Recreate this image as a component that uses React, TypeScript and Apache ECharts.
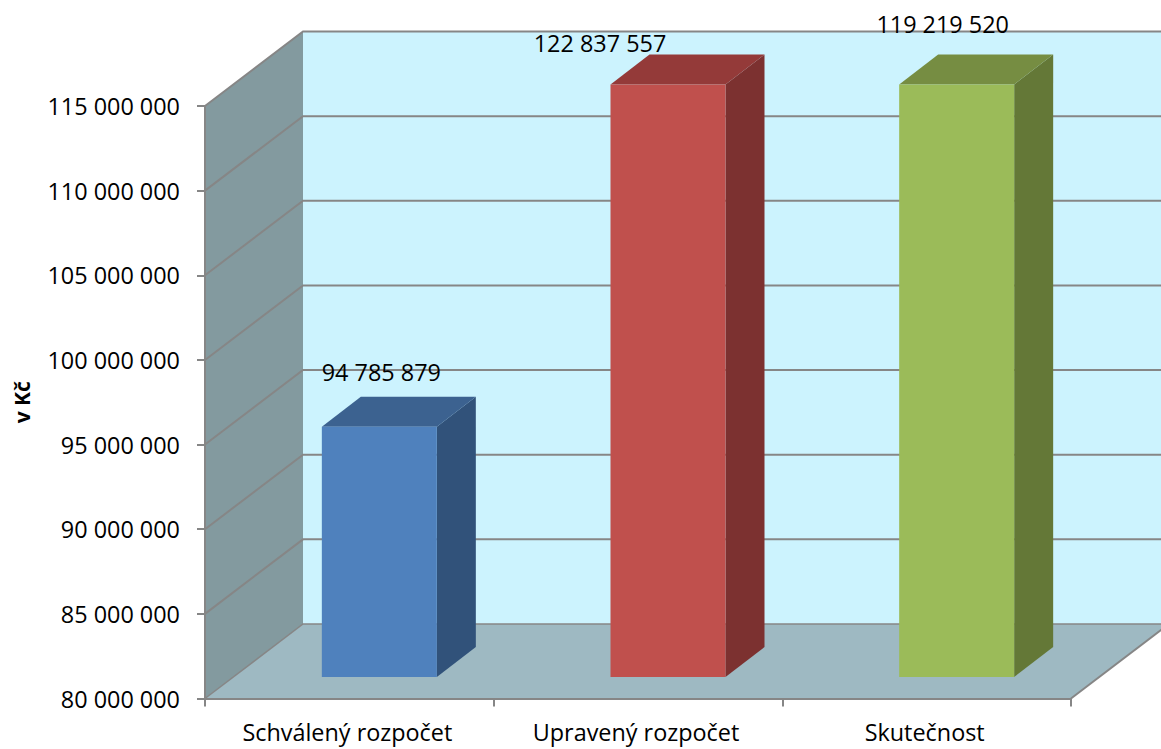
import React, { useEffect, useRef } from "react";
import * as echarts from "echarts";

const categories = ["Schválený rozpočet", "Upravený rozpočet", "Skutečnost"];
const values = [94785879, 122837557, 119219520];
const yMin = 80000000;
const yMax = 115000000;
const yStep = 5000000;
const yTicks = [80000000, 85000000, 90000000, 95000000, 100000000, 105000000, 110000000, 115000000];
const frontColors = ["#4F81BD", "#C0504D", "#9BBB59"];
const sideColors = ["#31527A", "#7C3130", "#647837"];
const topColors = ["#3C6290", "#943A39", "#768D42"];

const FONT = '"Open Sans", sans-serif';
const FONT_SIZE = 23.4;
const fmt = (v: number) => String(v).replace(/\B(?=(\d{3})+(?!\d))/g, " ");

const WALL_DX = 98;
const WALL_DY = -74.5;
const BAR_SHIFT = 30;
const BAR_LIFT = -21.5;
const BAR_W = 115;
const BAR_DX = 39;
const BAR_DY = -30;
const GRID = "#868686";
// label centre relative to the top-front centre of each bar
const LABEL_OFFSETS = [[2, -55], [-68, -42], [-14, -61]];

function renderWalls(params: any, api: any) {
  const c = params.coordSys;
  const x0 = c.x;
  const x1 = c.x + c.width;
  const yB = c.y + c.height;
  const yT = c.y;
  const children: any[] = [
    { type: "polygon", shape: { points: [[x0 + WALL_DX, yT + WALL_DY], [x1 + WALL_DX, yT + WALL_DY], [x1 + WALL_DX, yB + WALL_DY], [x0 + WALL_DX, yB + WALL_DY]] }, style: { fill: "#CCF3FE" } },
    { type: "polygon", shape: { points: [[x0, yT], [x0 + WALL_DX, yT + WALL_DY], [x0 + WALL_DX, yB + WALL_DY], [x0, yB]] }, style: { fill: "#839A9F" } },
    { type: "polygon", shape: { points: [[x0, yB], [x0 + WALL_DX, yB + WALL_DY], [x1 + WALL_DX, yB + WALL_DY], [x1, yB]] }, style: { fill: "#9EB9C2" } },
  ];
  yTicks.forEach((t) => {
    const y = api.coord([0, t])[1];
    children.push({
      type: "polyline",
      shape: { points: [[x0, y], [x0 + WALL_DX, y + WALL_DY], [x1 + WALL_DX, y + WALL_DY]] },
      style: { fill: "none", stroke: GRID, lineWidth: t === yMin ? 1.5 : 2 },
    });
  });
  children.push({
    type: "line",
    shape: { x1, y1: yB, x2: x1 + WALL_DX, y2: yB + WALL_DY },
    style: { stroke: GRID, lineWidth: 2 },
  });
  return { type: "group", children };
}

function renderBar(params: any, api: any) {
  const i = api.value(0);
  const val = Math.min(api.value(1), yMax);
  const idx = params.dataIndex;
  const top = api.coord([i, val]);
  const base = api.coord([i, yMin]);
  const cx = top[0] + BAR_SHIFT;
  const l = cx - BAR_W / 2;
  const r = cx + BAR_W / 2;
  const t = top[1] + BAR_LIFT;
  const b = base[1] + BAR_LIFT;
  return {
    type: "group",
    children: [
      { type: "polygon", shape: { points: [[r, t], [r + BAR_DX, t + BAR_DY], [r + BAR_DX, b + BAR_DY], [r, b]] }, style: { fill: sideColors[idx] } },
      { type: "polygon", shape: { points: [[l, t], [l + BAR_DX, t + BAR_DY], [r + BAR_DX, t + BAR_DY], [r, t]] }, style: { fill: topColors[idx] } },
      { type: "rect", shape: { x: l, y: t, width: BAR_W, height: b - t }, style: { fill: frontColors[idx] } },
    ],
  };
}

function renderLabel(params: any, api: any) {
  const i = api.value(0);
  const idx = params.dataIndex;
  const top = api.coord([i, Math.min(api.value(1), yMax)]);
  const off = LABEL_OFFSETS[idx];
  return {
    type: "text",
    style: {
      text: fmt(api.value(1)),
      x: top[0] + BAR_SHIFT + off[0],
      y: top[1] + BAR_LIFT + off[1],
      align: "center",
      verticalAlign: "middle",
      fill: "#000",
      font: `${FONT_SIZE}px ${FONT}`,
    },
  };
}

export default function App() {
  const ref = useRef<HTMLDivElement>(null);
  useEffect(() => {
    document.body.style.margin = "0";
    document.body.style.overflow = "hidden";
    const chart = echarts.init(ref.current!, undefined, { renderer: "svg" });
    const rows = values.map((v, i) => [i, v]);
    chart.setOption({
      animation: false,
      backgroundColor: "#fff",
      grid: { left: 205, top: 106, width: 866, height: 592.5, containLabel: false, outerBoundsMode: "none" },
      xAxis: {
        type: "category",
        data: categories,
        z: 5,
        axisLine: { lineStyle: { color: GRID, width: 2 } },
        axisTick: { show: true, length: 8, lineStyle: { color: GRID, width: 2 } },
        axisLabel: { color: "#000", fontFamily: FONT, fontSize: FONT_SIZE, margin: 22, padding: [0, 4, 0, 0] },
        splitLine: { show: false },
      },
      yAxis: {
        type: "value",
        min: yMin,
        max: yMax,
        interval: yStep,
        z: 5,
        name: "v Kč",
        nameLocation: "middle",
        nameGap: 173,
        nameTextStyle: { color: "#000", fontFamily: FONT, fontSize: 21, fontWeight: "bold" },
        axisLine: { show: true, lineStyle: { color: GRID, width: 2 } },
        axisTick: { show: true, length: 8, lineStyle: { color: GRID, width: 2 } },
        axisLabel: { color: "#000", fontFamily: FONT, fontSize: FONT_SIZE, margin: 25, padding: [3, 0, 0, 0], formatter: (v: number) => fmt(v) },
        splitLine: { show: false },
      },
      series: [
        { type: "custom", z: 1, clip: false, silent: true, data: [[0, yMin]], renderItem: renderWalls, encode: { x: 0, y: 1 } },
        { type: "custom", z: 2, clip: false, data: rows, renderItem: renderBar, encode: { x: 0, y: 1 } },
        { type: "custom", z: 3, clip: false, data: rows, renderItem: renderLabel, encode: { x: 0, y: 1 } },
      ],
    });
    return () => chart.dispose();
  }, []);
  return <div ref={ref} style={{ position: "absolute", left: 0, top: 0, width: 1161, height: 749 }} />;
}
